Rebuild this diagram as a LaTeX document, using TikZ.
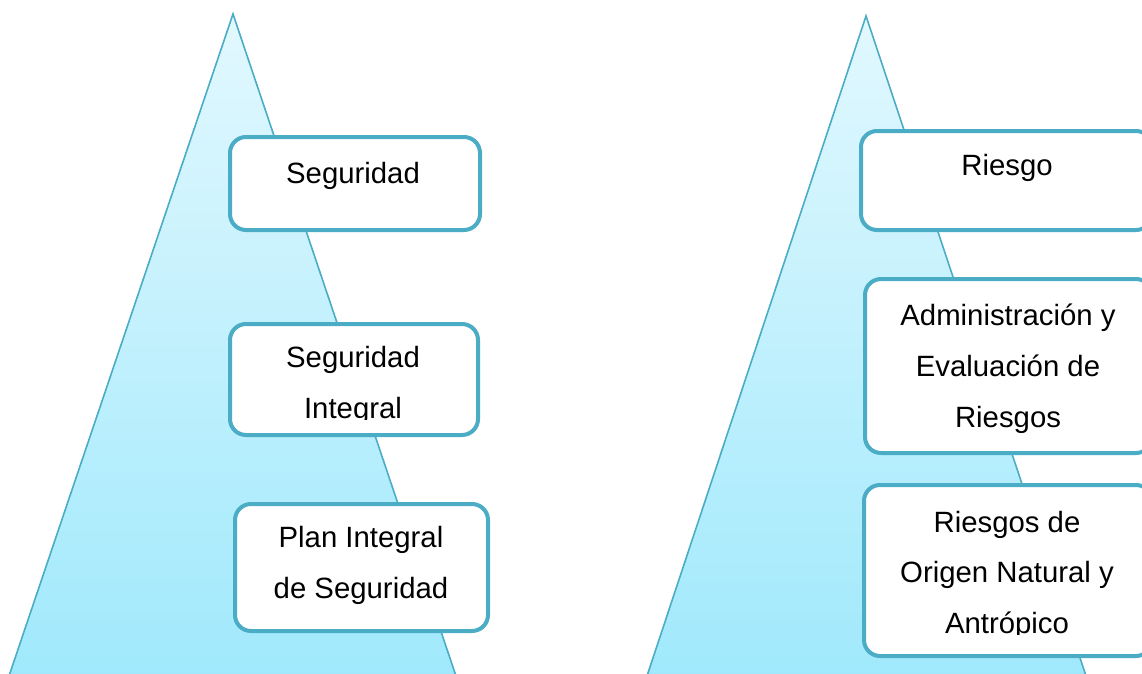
\documentclass[tikz,border=0pt]{standalone}
\usepackage{fontspec}
\setmainfont{Liberation Sans}
\usetikzlibrary{fit}
\definecolor{edge}{RGB}{75,172,198}
\definecolor{toptri}{RGB}{226,248,254}
\definecolor{bottri}{RGB}{160,233,252}
\tikzset{
  tri/.style={draw=edge, line width=1.2pt, top color=toptri, bottom color=bottri},
  box/.style={draw=edge, line width=3pt, fill=white, rounded corners=12pt, inner sep=0pt},
  txt/.style={inner sep=0pt, align=center, font=\fontsize{22}{38}\selectfont, anchor=base}
}
\begin{document}
\begin{tikzpicture}[x=0.75pt,y=-0.75pt]
\useasboundingbox (0,0) rectangle (1142,674);
% triangles
\coordinate (la) at (233,14);
\coordinate (ll) at (9,676);
\coordinate (lr) at (456,676);
\coordinate (ra) at (866,16);
\coordinate (rl) at (647,676);
\coordinate (rr) at (1086,676);
\shade[tri] (la) -- (lr) -- (ll) -- cycle;
\shade[tri] (ra) -- (rr) -- (rl) -- cycle;
% left boxes
\node[box, fit={(230,137) (480,230)}] (l1) {};
\node[box, fit={(230,324) (478,435)}] (l2) {};
\node[box, fit={(235,504) (488,631)}] (l3) {};
% right boxes
\node[box, fit={(861,131) (1152,230)}] (r1) {};
\node[box, fit={(865,279) (1152,453)}] (r2) {};
\node[box, fit={(864,485) (1152,656)}] (r3) {};
% texts (anchor = baseline of the last line)
\node[txt] (t1) at (353,183) {Seguridad};
\begin{scope}
\clip (l2.north west) rectangle (l2.east |- {(0,419)});
\node[txt] (t2) at (353,418.5) {Seguridad\\Integral};
\end{scope}
\node[txt] (t3) at (361,598.5) {Plan Integral\\de Seguridad};
\node[txt] (t4) at (1007,175) {Riesgo};
\node[txt] (t5) at (1008,427) {Administración y\\Evaluación de\\Riesgos};
\begin{scope}
\clip (r3.north west) rectangle (r3.east |- {(0,634)});
\node[txt] (t6) at (1007,633.5) {Riesgos de\\Origen Natural y\\Antrópico};
\end{scope}
\end{tikzpicture}
\end{document}
